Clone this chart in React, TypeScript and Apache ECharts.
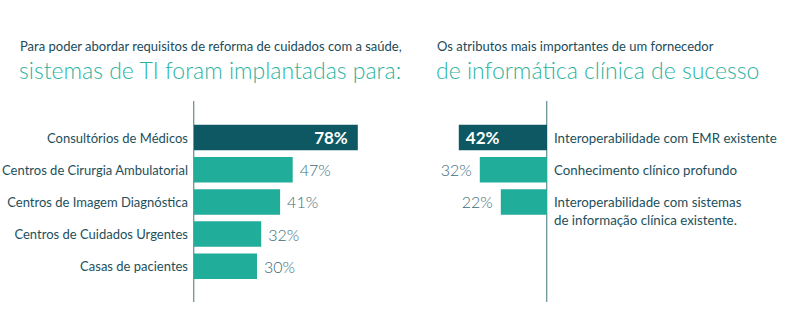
import React, { useEffect, useRef } from "react";
import * as echarts from "echarts";

const leftTitle = "Para poder abordar requisitos de reforma de cuidados com a saúde,";
const leftSubtitle = "sistemas de TI foram implantadas para:";
const rightTitle = "Os atributos mais importantes de um fornecedor";
const rightSubtitle = "de informática clínica de sucesso";

const leftCategories = [
  "Consultórios de Médicos",
  "Centros de Cirurgia Ambulatorial",
  "Centros de Imagem Diagnóstica",
  "Centros de Cuidados Urgentes",
  "Casas de pacientes",
];
const leftValues = [78, 47, 41, 32, 30];

const rightCategories = [
  "Interoperabilidade com EMR existente",
  "Conhecimento clínico profundo",
  "Interoperabilidade com sistemas\nde informação clínica existente.",
];
const rightValues = [42, 32, 22];

const DARK = "#0d5862";
const LIGHT = "#20ad9a";
const LABEL = "#1d4f5b";
const VALUE = "#3a6d78";
const FONT = "Lato, 'Noto Sans', sans-serif";

export default function App() {
  const ref = useRef<HTMLDivElement>(null);
  useEffect(() => {
    if (!ref.current) return;
    const chart = echarts.init(ref.current, null, { renderer: "svg" });
    const mk = (vals: number[], side: "left" | "right") =>
      vals.map((v, i) =>
        i === 0
          ? {
              value: v,
              itemStyle: { color: DARK },
              label: {
                position: side === "left" ? "insideRight" : "insideLeft",
                color: "#ffffff",
                fontWeight: "bold",
                fontSize: 17,
                distance: side === "left" ? 10 : 7,
              },
            }
          : { value: v }
      );
    const rowH = 32.2;
    const top = 121.4;
    chart.setOption({
      animation: false,
      textStyle: { fontFamily: FONT },
      title: [
        { text: leftTitle, left: 20, top: 39.5, padding: 0, textStyle: { fontSize: 13, fontWeight: "normal", color: "#1b4b57", fontFamily: FONT } },
        { text: leftSubtitle, left: 19, top: 58.5, padding: 0, textStyle: { fontSize: 23, fontWeight: 300, color: "#2bb3a0", fontFamily: FONT } },
        { text: rightTitle, left: 437, top: 39.5, padding: 0, textStyle: { fontSize: 13, fontWeight: "normal", color: "#1b4b57", fontFamily: FONT } },
        { text: rightSubtitle, left: 436, top: 58.5, padding: 0, textStyle: { fontSize: 23, fontWeight: 300, color: "#2bb3a0", fontFamily: FONT } },
      ],
      grid: [
        { left: 194, top, width: 210, height: rowH * leftCategories.length, outerBoundsMode: "none", containLabel: false },
        { left: 547 - 210, top, width: 210, height: rowH * rightCategories.length, outerBoundsMode: "none", containLabel: false },
      ],
      xAxis: [
        { type: "value", gridIndex: 0, min: 0, max: 100, show: false },
        { type: "value", gridIndex: 1, min: 0, max: 100, show: false, inverse: true },
      ],
      yAxis: [
        {
          type: "category",
          gridIndex: 0,
          data: leftCategories,
          inverse: true,
          axisLine: { show: false },
          axisTick: { show: false },
          axisLabel: { interval: 0, margin: 6, fontSize: 13, color: LABEL, fontFamily: FONT },
        },
        {
          type: "category",
          gridIndex: 1,
          data: rightCategories,
          inverse: true,
          position: "right",
          axisLine: { show: false, onZero: false },
          axisTick: { show: false },
          axisLabel: {
            interval: 0,
            hideOverlap: false,
            margin: 7,
            fontSize: 13.3,
            lineHeight: 18,
            color: LABEL,
            fontFamily: FONT,
            align: "left",
            formatter: (v: string) => (v.indexOf("\n") >= 0 ? "\n" + v : v),
          },
        },
      ],
      series: [
        {
          type: "bar",
          xAxisIndex: 0,
          yAxisIndex: 0,
          data: mk(leftValues, "left"),
          barWidth: 25.5,
          itemStyle: { color: LIGHT },
          label: {
            show: true,
            position: "right",
            distance: 7,
            formatter: "{c}%",
            fontSize: 16,
            fontWeight: 300,
            color: VALUE,
            fontFamily: FONT,
          },
        },
        {
          type: "bar",
          xAxisIndex: 1,
          yAxisIndex: 1,
          data: mk(rightValues, "right"),
          barWidth: 25.5,
          itemStyle: { color: LIGHT },
          label: {
            show: true,
            position: "left",
            distance: 8,
            formatter: "{c}%",
            fontSize: 16,
            fontWeight: 300,
            color: VALUE,
            fontFamily: FONT,
          },
        },
      ],
      graphic: [
        { type: "line", shape: { x1: 193.7, y1: 101, x2: 193.7, y2: 302 }, style: { stroke: "#6d959c", lineWidth: 1.3 } },
        { type: "line", shape: { x1: 546.7, y1: 101, x2: 546.7, y2: 302 }, style: { stroke: "#6d959c", lineWidth: 1.3 } },
      ],
    });
    return () => chart.dispose();
  }, []);
  return (
    <div
      ref={ref}
      style={{ position: "absolute", left: 0, top: 0, width: 792, height: 333, background: "#ffffff" }}
    />
  );
}
